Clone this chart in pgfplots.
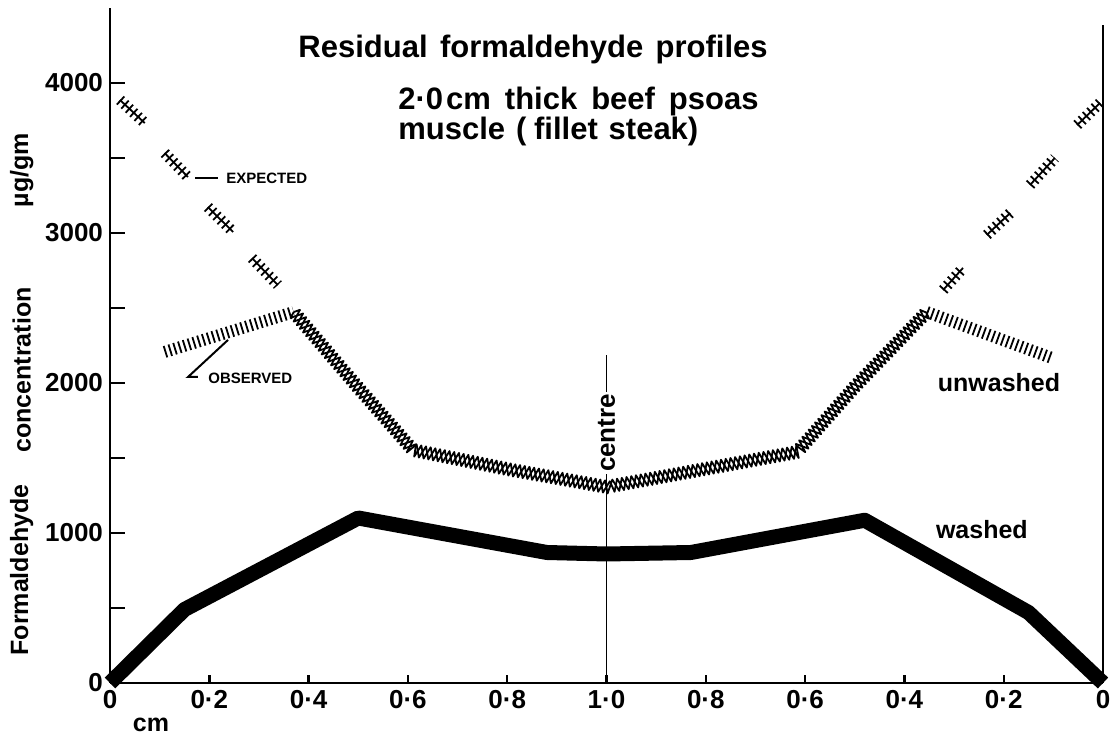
\documentclass[border=0pt]{standalone}
\usepackage{fontspec}
\setmainfont{Liberation Sans}
\usepackage{pgfplots}
\pgfplotsset{compat=1.18}
\usetikzlibrary{decorations.pathmorphing}

\tikzset{
  crossA/.style={black, line width=0.9pt, line join=round, decorate,
     decoration={zigzag, amplitude=3.1pt, segment length=4.8pt}},
  crossB/.style={black, line width=0.9pt, line join=round, decorate,
     decoration={zigzag, mirror, amplitude=3.1pt, segment length=4.8pt}},
  stripes/.style={black, line width=6pt, dash pattern=on 0.9pt off 1.6pt},
  expd/.style={black, line width=5.5pt, dash pattern=on 0.9pt off 2.1pt},
  expc/.style={black, line width=0.9pt},
}

\begin{document}
\begin{tikzpicture}
\begin{axis}[
  scale only axis, width=496.5pt, height=337.5pt,
  xmin=0, xmax=2, ymin=0, ymax=4500,
  axis x line=bottom, axis y line=left,
  axis line style={-, line width=1.4pt, black},
  tick align=inside,
  xtick={0,0.2,0.4,0.6,0.8,1,1.2,1.4,1.6,1.8,2},
  xticklabels={0,0·2,0·4,0·6,0·8,1·0,0·8,0·6,0·4,0·2,0},
  ytick={0,1000,2000,3000,4000},
  yticklabels={0,1000,2000,3000,4000},
  minor ytick={500,1500,2500,3500},
  major tick length=7.5pt, minor tick length=7.5pt,
  xtick style={/pgfplots/major tick length=4pt},
  tick style={black, line width=1.2pt},
  ticklabel style={font=\fontsize{13}{14}\selectfont\bfseries},
  /pgf/number format/assume math mode=true,
  clip=false,
]
\coordinate (SW) at (rel axis cs:0,0);
\coordinate (NE) at (rel axis cs:1,1);
\draw[line width=1.4pt] (rel axis cs:1,0) -- (rel axis cs:1,0.975);

% centre line
\addplot[black, line width=0.8pt] coordinates {(1.0,0) (1.0,2187)};

% washed
\addplot[black, line width=7.5pt, line join=round] coordinates {
 (0,0) (0.15,490) (0.5,1100) (0.88,870) (1.0,860) (1.17,870) (1.52,1085) (1.85,470) (2.0,0)};

% unwashed (observed), cross-hatched main band
\addplot[crossA] coordinates {
 (0.37,2473) (0.497,1980) (0.61,1553) (0.81,1420) (1.0,1307) (1.154,1400) (1.384,1540) (1.5,1975) (1.645,2473)};
\addplot[crossB] coordinates {
 (0.37,2473) (0.497,1980) (0.61,1553) (0.81,1420) (1.0,1307) (1.154,1400) (1.384,1540) (1.5,1975) (1.645,2473)};
% unwashed (observed), outer parts
\addplot[stripes] coordinates {(0.11,2207) (0.37,2473)};
\addplot[stripes] coordinates {(1.645,2473) (1.897,2167)};

% expected
\addplot[expd, unbounded coords=jump] coordinates {
 (0.02,3887) (0.07,3733) (0.09,nan)
 (0.11,3533) (0.157,3373) (0.18,nan)
 (0.197,3173) (0.248,3007) (0.26,nan)
 (0.286,2833) (0.338,2653)};
\addplot[expc, unbounded coords=jump] coordinates {
 (0.02,3887) (0.07,3733) (0.09,nan)
 (0.11,3533) (0.157,3373) (0.18,nan)
 (0.197,3173) (0.248,3007) (0.26,nan)
 (0.286,2833) (0.338,2653)};
\addplot[expd, unbounded coords=jump] coordinates {
 (1.678,2620) (1.718,2767) (1.74,nan)
 (1.766,2987) (1.813,3133) (1.83,nan)
 (1.853,3320) (1.903,3500) (1.92,nan)
 (1.948,3720) (1.994,3867)};
\addplot[expc, unbounded coords=jump] coordinates {
 (1.678,2620) (1.718,2767) (1.74,nan)
 (1.766,2987) (1.813,3133) (1.83,nan)
 (1.853,3320) (1.903,3500) (1.92,nan)
 (1.948,3720) (1.994,3867)};

% annotations
\draw[line width=1pt] (axis cs:0.1712,3367) -- (axis cs:0.2175,3367);
\node[anchor=west, inner sep=0pt, font=\fontsize{7.5}{8}\selectfont\bfseries] at (axis cs:0.2336,3367) {EXPECTED};
\draw[line width=1pt] (axis cs:0.2377,2287) -- (axis cs:0.1571,2040) -- (axis cs:0.1772,2040);
\node[anchor=west, inner sep=0pt, font=\fontsize{7.5}{8}\selectfont\bfseries] at (axis cs:0.1974,2030) {OBSERVED};

\node[rotate=90, fill=white, inner sep=1pt, font=\fontsize{13}{14}\selectfont\bfseries] at (axis cs:1.0,1667) {centre};
\node[font=\fontsize{12.5}{13}\selectfont\bfseries] at (axis cs:1.7905,2000) {unwashed};
\node[font=\fontsize{12.5}{13}\selectfont\bfseries] at (axis cs:1.756,1020) {washed};
\node[font=\fontsize{12.5}{13}\selectfont\bfseries] at (axis cs:0.0826,-280) {cm};

% y label
\node[rotate=90, font=\fontsize{12.5}{13}\selectfont\bfseries] at (axis cs:-0.178,753) {Formaldehyde};
\node[rotate=90, font=\fontsize{12.5}{13}\selectfont\bfseries] at (axis cs:-0.178,2087) {concentration};
\node[rotate=90, font=\fontsize{12.5}{13}\selectfont\bfseries] at (axis cs:-0.178,3420) {µg/gm};

% title
\node[anchor=base west, inner sep=0pt, font=\fontsize{15.5}{16}\selectfont\bfseries] at (axis cs:0.3787,4167) {Residual\hspace{0.4em}formaldehyde\hspace{0.4em}profiles};
\node[anchor=base west, inner sep=0pt, font=\fontsize{15.5}{16}\selectfont\bfseries] at (axis cs:0.58,3820) {2·0\hspace{0.1em}cm\hspace{0.45em}thick\hspace{0.45em}beef\hspace{0.45em}psoas};
\node[anchor=base west, inner sep=0pt, font=\fontsize{15.5}{16}\selectfont\bfseries] at (axis cs:0.58,3620) {muscle\hspace{0.35em}(\hspace{0.25em}fillet\hspace{0.35em}steak)};
\end{axis}
\pgfresetboundingbox
\path ([shift={(-55pt,-27pt)}]SW) rectangle ([shift={(4.5pt,4pt)}]NE);
\end{tikzpicture}
\end{document}
